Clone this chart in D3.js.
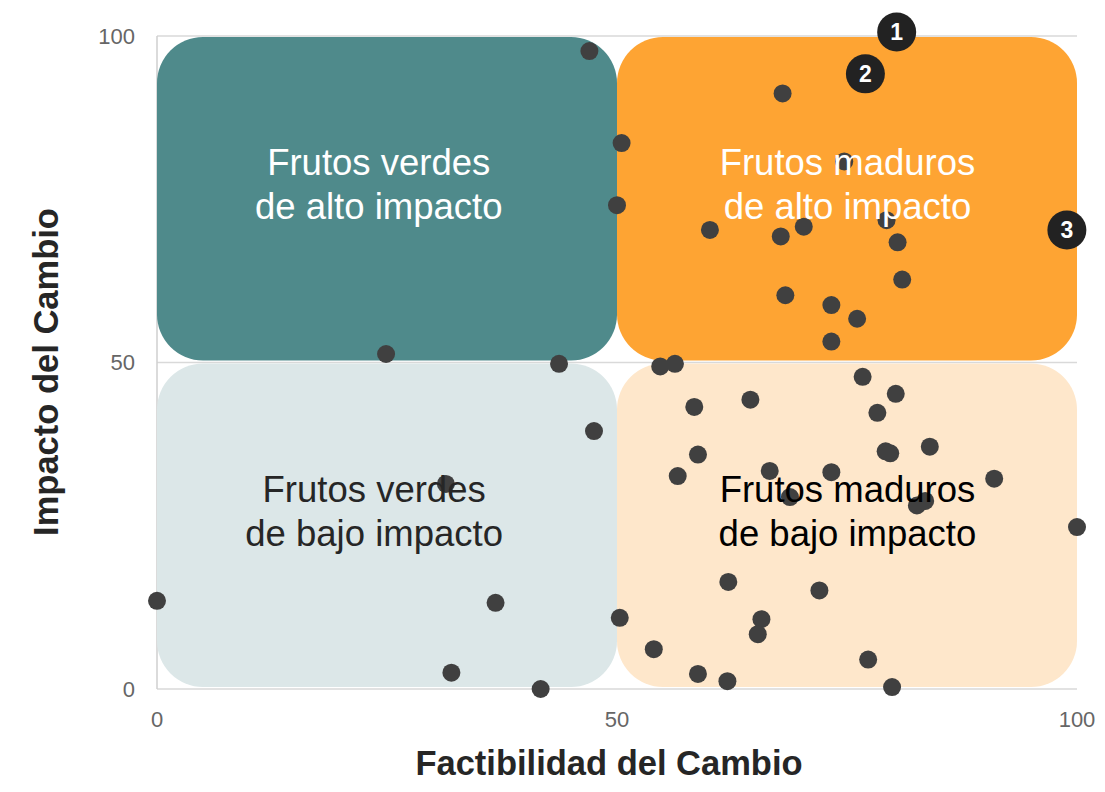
<!DOCTYPE html>
<html><head><meta charset="utf-8">
<script src="https://cdn.jsdelivr.net/npm/d3@7"></script>
<style>body{margin:0;background:#fff;}svg{display:block;font-family:"Liberation Sans",Arial,sans-serif;}</style>
</head><body>
<svg id="chart" width="1105" height="792"></svg>
<script>
// Data
const xTicks = [0, 50, 100];
const yTicks = [0, 50, 100];
const quadrantNames = ["Frutos verdes|de alto impacto", "Frutos maduros|de alto impacto", "Frutos verdes|de bajo impacto", "Frutos maduros|de bajo impacto"];
const pointX = [47.0, 50.5, 50.0, 24.9, 43.7, 47.5, 31.4, 0.0, 36.8, 32.0, 41.7, 50.3,
  68.0, 74.7, 60.1, 67.8, 70.3, 79.3, 80.5, 81.0, 68.3, 73.3, 76.1, 73.3,
  54.7, 56.3, 76.7, 80.3, 78.3, 58.4, 64.5, 58.8, 56.6, 66.6, 73.3, 68.8, 79.2, 79.7, 84.0, 91.0, 82.6, 83.5, 100.0,
  62.1, 72.0, 65.7, 65.3, 54.0, 58.8, 62.0, 77.3, 79.9];
const pointY = [97.7, 83.6, 74.1, 51.3, 49.8, 39.5, 31.4, 13.5, 13.2, 2.5, 0.0, 10.9,
  91.2, 80.8, 70.3, 69.3, 70.8, 71.8, 68.4, 62.7, 60.3, 58.8, 56.7, 53.2,
  49.4, 49.8, 47.8, 45.2, 42.3, 43.2, 44.3, 35.9, 32.6, 33.4, 33.2, 29.4, 36.4, 36.1, 37.1, 32.2, 28.1, 28.8, 24.8,
  16.4, 15.1, 10.7, 8.4, 6.1, 2.3, 1.2, 4.5, 0.3];
const markedX = [80.4, 77.0, 98.9];
const markedY = [100.6, 94.2, 70.3];
const markedLabels = ["1", "2", "3"];
const xTitle = "Factibilidad del Cambio";
const yTitle = "Impacto del Cambio";

const svg = d3.select("#chart");
const x = d3.scaleLinear().domain([0, 100]).range([157, 1077]);
const y = d3.scaleLinear().domain([0, 100]).range([689, 36]);

// gridlines
svg.append("g").selectAll("line").data(yTicks).join("line")
  .attr("x1", x(0)).attr("x2", x(100)).attr("y1", d => y(d)).attr("y2", d => y(d))
  .attr("stroke", "#d9d9d9").attr("stroke-width", 1.5);
svg.append("line").attr("x1", x(0)).attr("x2", x(0)).attr("y1", y(100)).attr("y2", y(0))
  .attr("stroke", "#cfcfcf").attr("stroke-width", 1.5);

// quadrants
const quads = [
  {x0: 0, x1: 50, y0: 50, y1: 100, fill: "#4f8a8b", text: "#ffffff", name: quadrantNames[0], lx: 24.1, ly: 75},
  {x0: 50, x1: 100, y0: 50, y1: 100, fill: "#fea433", text: "#ffffff", name: quadrantNames[1], lx: 75.05, ly: 75},
  {x0: 0, x1: 50, y0: 0, y1: 50, fill: "#dce7e8", text: "#262626", name: quadrantNames[2], lx: 23.6, ly: 25},
  {x0: 50, x1: 100, y0: 0, y1: 50, fill: "#fee7cb", text: "#000000", name: quadrantNames[3], lx: 75.05, ly: 25}
];
svg.append("g").selectAll("rect").data(quads).join("rect")
  .attr("x", d => x(d.x0)).attr("width", d => x(d.x1) - x(d.x0))
  .attr("y", d => y(d.y1) + 1).attr("height", d => y(d.y0) - y(d.y1) - 3)
  .attr("rx", 46).attr("ry", 46)
  .attr("fill", d => d.fill);

// axis tick labels
svg.append("g").selectAll("text").data(yTicks).join("text")
  .attr("x", 135).attr("y", d => y(d)).attr("dy", "0.35em")
  .attr("text-anchor", "end").attr("font-size", 22).attr("fill", "#666")
  .text(d => d);
svg.append("g").selectAll("text").data(xTicks).join("text")
  .attr("x", d => x(d)).attr("y", 727)
  .attr("text-anchor", "middle").attr("font-size", 22).attr("fill", "#666")
  .text(d => d);

// points
svg.append("g").selectAll("circle").data(pointX.map((v, i) => [v, pointY[i]])).join("circle")
  .attr("cx", d => x(d[0])).attr("cy", d => y(d[1])).attr("r", 9)
  .attr("fill", "#404040");

// quadrant labels
const lab = svg.append("g").selectAll("text").data(quads).join("text")
  .attr("text-anchor", "middle").attr("font-size", 36.5)
  .attr("fill", d => d.text);
lab.append("tspan").attr("x", d => x(d.lx)).attr("y", d => y(d.ly) - 24).text(d => d.name.split("|")[0]);
lab.append("tspan").attr("x", d => x(d.lx)).attr("y", d => y(d.ly) + 20).text(d => d.name.split("|")[1]);

// marked points
const mk = svg.append("g").selectAll("g").data(markedLabels.map((l, i) => ({l, x: markedX[i], y: markedY[i]}))).join("g");
mk.append("circle").attr("cx", d => x(d.x)).attr("cy", d => y(d.y)).attr("r", 19.5).attr("fill", "#222222");
mk.append("text").attr("x", d => x(d.x)).attr("y", d => y(d.y)).attr("dy", "0.36em")
  .attr("text-anchor", "middle").attr("font-size", 23).attr("font-weight", "bold").attr("fill", "#fff")
  .text(d => d.l);

// titles
svg.append("text").attr("x", 609).attr("y", 775).attr("text-anchor", "middle")
  .attr("font-size", 34.5).attr("font-weight", "bold").attr("fill", "#262626").text(xTitle);
svg.append("text").attr("transform", "translate(58,372) rotate(-90)").attr("text-anchor", "middle")
  .attr("font-size", 34.5).attr("font-weight", "bold").attr("fill", "#262626").text(yTitle);
</script>
</body></html>
